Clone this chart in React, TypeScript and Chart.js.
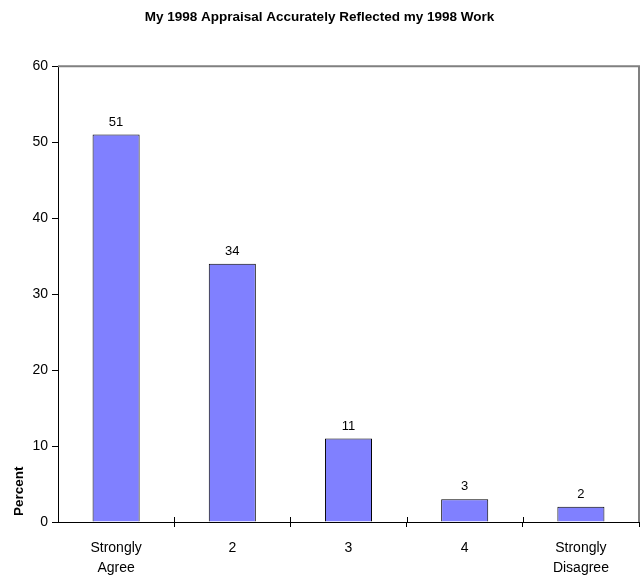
import React, { useEffect, useRef } from "react";
import { Chart, registerables } from "chart.js";

Chart.register(...registerables);

const titleText = "My 1998 Appraisal Accurately Reflected my 1998 Work";
const categories: (string | string[])[] = [["Strongly", "Agree"], "2", "3", "4", ["Strongly", "Disagree"]];
const percentValues = [51, 34, 11, 3, 2];
const yTicks = [0, 10, 20, 30, 40, 50, 60];
const yAxisTitle = "Percent";

const FONT = "'Liberation Sans', Arial, sans-serif";

const framePlugin = {
  id: "frame",
  afterDraw(chart: any) {
    const { ctx, chartArea } = chart;
    const xs = chart.scales.x;
    ctx.save();
    ctx.strokeStyle = "#808080";
    ctx.lineWidth = 2;
    ctx.beginPath();
    ctx.moveTo(chartArea.left, chartArea.top);
    ctx.lineTo(chartArea.right, chartArea.top);
    ctx.lineTo(chartArea.right, chartArea.bottom);
    ctx.stroke();
    ctx.strokeStyle = "#000";
    ctx.lineWidth = 1;
    const n = chart.data.labels.length;
    const w = (xs.right - xs.left) / n;
    for (let i = 1; i < n; i++) {
      const x = Math.round(xs.left + i * w) + 0.5;
      ctx.beginPath();
      ctx.moveTo(x, chartArea.bottom);
      ctx.lineTo(x, chartArea.bottom - 5);
      ctx.stroke();
    }
    const meta = chart.getDatasetMeta(0);
    ctx.fillStyle = "#000";
    ctx.font = `13px ${FONT}`;
    ctx.textAlign = "center";
    ctx.textBaseline = "bottom";
    meta.data.forEach((bar: any, i: number) => {
      ctx.fillText(String(chart.data.datasets[0].data[i]), bar.x, bar.y - 6);
    });
    // y-axis title, near the bottom of the axis
    ctx.save();
    ctx.translate(19, chartArea.bottom - 6);
    ctx.rotate(-Math.PI / 2);
    ctx.font = `bold 13.5px ${FONT}`;
    ctx.textAlign = "left";
    ctx.textBaseline = "middle";
    ctx.fillText(yAxisTitle, 0, 0);
    ctx.restore();
    ctx.restore();
  },
};

export default function App() {
  const ref = useRef<HTMLCanvasElement>(null);
  useEffect(() => {
    document.body.style.margin = "0";
    const chart = new Chart(ref.current!, {
      type: "bar",
      data: {
        labels: categories as any,
        datasets: [
          {
            data: percentValues,
            backgroundColor: "#8080FF",
            borderColor: "#000000",
            borderWidth: 1,
            barPercentage: 0.405,
            categoryPercentage: 1,
          },
        ],
      },
      options: {
        animation: false,
        responsive: false,
        layout: { padding: { right: 2, left: 0, top: 0, bottom: 0 } },
        plugins: {
          legend: { display: false },
          tooltip: { enabled: false },
          title: {
            display: true,
            text: titleText,
            color: "#000",
            font: { family: FONT, size: 13.5, weight: "bold" },
            padding: { top: 9, bottom: 41 },
          },
        },
        scales: {
          x: {
            grid: {
              offset: true,
              drawOnChartArea: false,
              drawTicks: true,
              tickLength: 5,
              color: (ctx: any) =>
                ctx.index === 0 || ctx.index === percentValues.length ? "rgba(0,0,0,0)" : "#000",
            },
            border: { display: true, color: "#000", width: 1 },
            ticks: {
              color: "#000",
              font: { family: FONT, size: 14, lineHeight: 1.43 },
              padding: 11,
              maxRotation: 0,
              autoSkip: false,
            },
            afterFit: (s: any) => {
              s.height = 56;
            },
          },
          y: {
            min: 0,
            max: 60,
            afterBuildTicks: (s: any) => {
              s.ticks = yTicks.map((v) => ({ value: v }));
            },
            grid: {
              drawOnChartArea: false,
              drawTicks: true,
              tickLength: 6,
              color: "#000",
            },
            border: { display: true, color: "#000", width: 1 },
            ticks: {
              color: "#000",
              font: { family: FONT, size: 14 },
              padding: 4,
            },
            afterFit: (s: any) => {
              s.width = 58;
            },
          },
        },
      },
      plugins: [framePlugin],
    } as any);
    return () => chart.destroy();
  }, []);
  return <canvas ref={ref} width={641} height={578} style={{ display: "block" }} />;
}
